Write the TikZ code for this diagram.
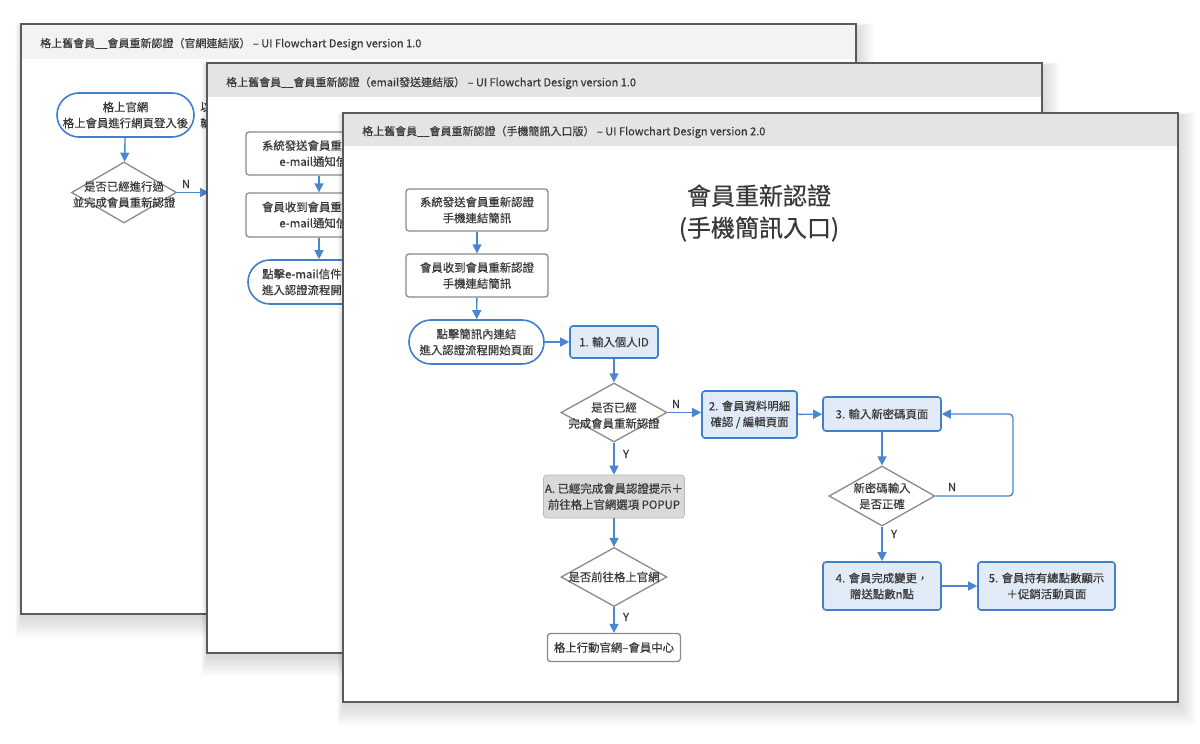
\documentclass[tikz,border=0pt]{standalone}
\usepackage{fontspec}
\setmainfont{Noto Sans CJK TC}[FakeBold=0.35]
\newfontfamily\titlefont{Noto Sans CJK TC}[FakeBold=0.5]
\usetikzlibrary{arrows.meta,shapes.geometric}
\definecolor{fblue}{HTML}{3F7FCC}
\definecolor{ablue}{HTML}{4A86CF}
\definecolor{lblue}{HTML}{E1EBF7}
\definecolor{txtc}{HTML}{383838}
\definecolor{bgray}{HTML}{8A8A8A}
\definecolor{agray}{HTML}{D9D9D9}
\definecolor{pgline}{HTML}{5A5A5A}
\definecolor{hdrA}{HTML}{F3F3F3}
\definecolor{hdrB}{HTML}{E4E4E4}
\newcommand\fsbox{\fontsize{11.4bp}{16bp}\selectfont}
\newcommand\fshdr{\fontsize{11bp}{14bp}\selectfont}
\newcommand\fstitle{\titlefont\fontsize{24bp}{32bp}\selectfont}
\newcommand\pgshadow[4]{%
  \foreach \i in {1,...,12}{%
    \fill[black,opacity=0.010] ({#1-\i*0.5},{#2+3-\i*0.3}) rectangle ({#3+\i*1.5},{#4+3+\i*1.7});
  }}
\begin{document}
\begin{tikzpicture}[x=1bp,y=-1bp,
  pgframe/.style={draw=pgline,line width=1.1bp},
  hdrtxt/.style={anchor=west,inner sep=0,text=txtc,font=\fshdr},
  plainbox/.style={draw=bgray,line width=1.3bp,rounded corners=3bp,fill=white,text=txtc,align=center,inner sep=0,font=\fsbox},
  bluebox/.style={draw=fblue,line width=1.6bp,rounded corners=3bp,fill=lblue,text=txtc,align=center,inner sep=0,font=\fsbox},
  graybox/.style={draw=agray!85!black,line width=0.6bp,rounded corners=3bp,fill=agray,text=txtc,align=center,inner sep=0,font=\fsbox},
  term/.style={draw=fblue,line width=1.6bp,rounded corners=22bp,fill=white,text=txtc,align=center,inner sep=0,font=\fsbox},
  dia/.style={diamond,draw=bgray,line width=1.3bp,fill=white,inner sep=0,minimum width=106bp,minimum height=60bp},
  diatxt/.style={text=txtc,align=center,inner sep=0,font=\fsbox},
  lbl/.style={text=txtc,inner sep=0,font=\fsbox},
  arr/.style={draw=ablue,line width=1.4bp,-{Triangle[length=9bp,width=9bp]}},
  loopline/.style={draw=ablue,line width=1.4bp,rounded corners=4bp,-{Triangle[length=9bp,width=9bp]}}
]
\useasboundingbox (0,0) rectangle (1200,744);
\fill[white] (0,0) rectangle (1200,744);

% ---------------- page 1 ----------------
\pgshadow{21}{24}{856}{614}
\fill[white] (21,24) rectangle (856,614);
\fill[hdrA] (21,24) rectangle (856,59);
\draw[pgframe] (21,24) rectangle (856,614);
\node[hdrtxt] (h1) at (40,44) {格上舊會員\_\_會員重新認證（官網連結版） – UI Flowchart Design version 1.0};
\node[term,minimum width=137bp,minimum height=44bp] (p1t) at (125.5,115) {格上官網\\格上會員進行網頁登入後};
\node[lbl,anchor=west] (p1x1) at (200,107) {以};
\node[lbl,anchor=west] (p1x2) at (200,123) {輸};
\node[dia,minimum width=105bp,minimum height=61bp] (p1d) at (124,192.5) {};
\node[diatxt] (p1dt) at ([yshift=-2bp]p1d.center) {是否已經進行過\\並完成會員重新認證};
\node[lbl] (p1n) at (186,184) {N};
\coordinate (p1e) at (209,192.5);
\draw[arr] (p1t) -- (p1d);
\draw[arr] (p1d.east) -- (p1e);

% ---------------- page 2 ----------------
\pgshadow{207}{63}{1042}{653}
\fill[white] (207,63) rectangle (1042,653);
\fill[hdrB] (207,63) rectangle (1042,97);
\draw[pgframe] (207,63) rectangle (1042,653);
\node[hdrtxt] (h2) at (226,83) {格上舊會員\_\_會員重新認證（email發送連結版） – UI Flowchart Design version 1.0};
\node[plainbox,minimum width=146bp,minimum height=43bp] (p2a) at (319,153.5) {系統發送會員重新認證\\e-mail通知信件};
\node[plainbox,minimum width=146bp,minimum height=44bp] (p2b) at (319,215) {會員收到會員重新認證\\e-mail通知信件};
\node[term,minimum width=142bp,minimum height=44bp] (p2c) at (319,282) {點擊e-mail信件內連結\\進入認證流程開始頁面};
\draw[arr] (p2a) -- (p2b);
\draw[arr] (p2b) -- (p2c);

% ---------------- page 3 ----------------
\pgshadow{343}{113}{1178}{702}
\fill[white] (343,113) rectangle (1178,702);
\fill[hdrB] (343,113) rectangle (1178,146);
\draw[pgframe] (343,113) rectangle (1178,702);
\node[hdrtxt] (h3) at (362,132) {格上舊會員\_\_會員重新認證（手機簡訊入口版） – UI Flowchart Design version 2.0};
\node[text=txtc,align=center,inner sep=0,font=\fstitle] (title) at (759,213) {會員重新認證\\(手機簡訊入口)};

\node[plainbox,minimum width=142bp,minimum height=42bp] (b1) at (477,210) {系統發送會員重新認證\\手機連結簡訊};
\node[plainbox,minimum width=142bp,minimum height=43bp] (b2) at (477,275.5) {會員收到會員重新認證\\手機連結簡訊};
\node[term,minimum width=135bp,minimum height=44bp] (t3) at (476.5,342) {點擊簡訊內連結\\進入認證流程開始頁面};
\node[bluebox,minimum width=88bp,minimum height=32bp] (n1) at (614,342) {1. 輸入個人ID};
\node[dia,minimum width=106bp,minimum height=59bp] (d1) at (614,412.5) {};
\node[diatxt] (d1t) at ([yshift=-3bp]d1.center) {是否已經\\完成會員重新認證};
\node[bluebox,minimum width=95bp,minimum height=47bp] (n2) at (749.5,414.5) {2. 會員資料明細\\確認 / 編輯頁面};
\node[bluebox,minimum width=118bp,minimum height=34bp] (n3) at (882,414) {3. 輸入新密碼頁面};
\node[graybox,minimum width=141bp,minimum height=43bp] (nA) at (614,496.5) {A. 已經完成會員認證提示＋\\前往格上官網選項 POPUP};
\node[dia,minimum width=106bp,minimum height=59bp] (d2) at (614,577) {};
\node[diatxt] (d2t) at (d2) {是否前往格上官網};
\node[plainbox,minimum width=133bp,minimum height=28bp] (nE) at (614,647.5) {格上行動官網–會員中心};
\node[dia,minimum width=106bp,minimum height=60bp] (d3) at (882,496) {};
\node[diatxt] (d3t) at (d3) {新密碼輸入\\是否正確};
\node[bluebox,minimum width=118bp,minimum height=48bp] (n4) at (882,586) {4. 會員完成變更，\\贈送點數n點};
\node[bluebox,minimum width=137bp,minimum height=48bp] (n5) at (1046.5,586) {5. 會員持有總點數顯示\\＋促銷活動頁面};
\coordinate (lp) at (1013,0);

\node[lbl] (l1) at (676,404) {N};
\node[lbl] (l2) at (626,454) {Y};
\node[lbl] (l3) at (626,617) {Y};
\node[lbl] (l4) at (952,487) {N};
\node[lbl] (l5) at (894,534) {Y};

\draw[arr] (b1) -- (b2);
\draw[arr] (b2) -- (t3);
\draw[arr] (t3) -- (n1);
\draw[arr] (n1) -- (d1);
\draw[arr] (d1.east) -- (d1.east -| n2.west);
\draw[arr] (n2) -- (n3);
\draw[arr] (d1) -- (nA);
\draw[arr] (nA) -- (d2);
\draw[arr] (d2) -- (nE);
\draw[arr] (n3) -- (d3);
\draw[arr] (d3) -- (n4);
\draw[arr] (n4) -- (n5);
\draw[loopline] (d3.east) -- (d3.east -| lp) |- (n3.east);
\end{tikzpicture}
\end{document}
